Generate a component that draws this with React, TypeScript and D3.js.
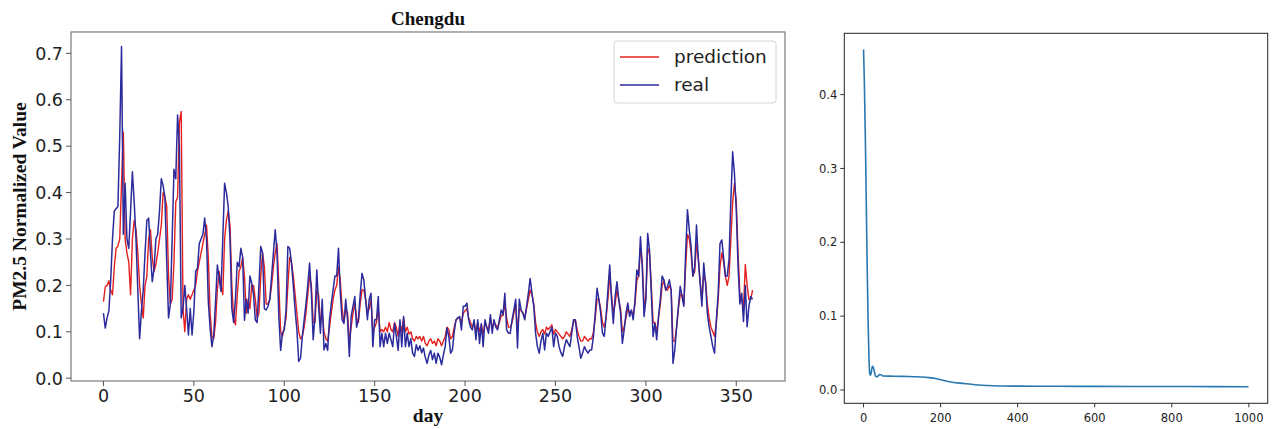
import React from "react";
import * as d3 from "d3";

// ---------- Left chart data (Chengdu) ----------
const realValues: number[] = [
  0.14, 0.108, 0.13, 0.145, 0.21, 0.30, 0.36, 0.365, 0.37, 0.52,
  0.715, 0.31, 0.42, 0.30, 0.28, 0.36, 0.445, 0.38, 0.30, 0.19,
  0.085, 0.145, 0.19, 0.27, 0.34, 0.345, 0.27, 0.208, 0.237, 0.30,
  0.31, 0.36, 0.43, 0.415, 0.39, 0.25, 0.13, 0.16, 0.30, 0.45,
  0.43, 0.567, 0.50, 0.13, 0.15, 0.20, 0.15, 0.093, 0.15, 0.093,
  0.144, 0.23, 0.237, 0.29, 0.30, 0.31, 0.345, 0.30, 0.165, 0.107,
  0.068, 0.093, 0.165, 0.244, 0.215, 0.187, 0.30, 0.42, 0.40, 0.37,
  0.30, 0.15, 0.12, 0.17, 0.25, 0.24, 0.28, 0.26, 0.125, 0.17,
  0.14, 0.22, 0.205, 0.18, 0.126, 0.12, 0.20, 0.284, 0.27, 0.15,
  0.147, 0.155, 0.17, 0.22, 0.27, 0.32, 0.27, 0.133, 0.06, 0.097,
  0.104, 0.147, 0.284, 0.28, 0.248, 0.2, 0.147, 0.104, 0.036, 0.043,
  0.09, 0.126, 0.16, 0.2, 0.248, 0.183, 0.083, 0.133, 0.233, 0.155,
  0.097, 0.17, 0.061, 0.075, 0.06, 0.126, 0.16, 0.19, 0.22, 0.22,
  0.28, 0.183, 0.126, 0.118, 0.17, 0.126, 0.047, 0.133, 0.155, 0.176,
  0.11, 0.126, 0.18, 0.226, 0.212, 0.17, 0.126, 0.17, 0.183, 0.068,
  0.126, 0.126, 0.176, 0.068, 0.097, 0.068, 0.097, 0.075, 0.097, 0.083,
  0.068, 0.118, 0.09, 0.06, 0.126, 0.068, 0.133, 0.068, 0.097, 0.068,
  0.085, 0.054, 0.047, 0.072, 0.06, 0.07, 0.055, 0.065, 0.045, 0.032,
  0.05, 0.06, 0.04, 0.054, 0.032, 0.054, 0.045, 0.029, 0.05, 0.068,
  0.108, 0.09, 0.054, 0.061, 0.1, 0.126, 0.13, 0.133, 0.104, 0.155,
  0.155, 0.162, 0.126, 0.11, 0.104, 0.126, 0.083, 0.126, 0.075, 0.118,
  0.068, 0.126, 0.11, 0.097, 0.137, 0.097, 0.126, 0.11, 0.104, 0.126,
  0.147, 0.137, 0.183, 0.104, 0.097, 0.097, 0.126, 0.147, 0.17, 0.065,
  0.17, 0.147, 0.14, 0.126, 0.155, 0.183, 0.215, 0.183, 0.155, 0.097,
  0.068, 0.054, 0.08, 0.097, 0.061, 0.097, 0.09, 0.1, 0.11, 0.068,
  0.097, 0.09, 0.068, 0.055, 0.047, 0.068, 0.083, 0.075, 0.068, 0.097,
  0.126, 0.126, 0.09, 0.068, 0.043, 0.054, 0.068, 0.06, 0.054, 0.061,
  0.061, 0.09, 0.14, 0.194, 0.17, 0.14, 0.097, 0.09, 0.133, 0.19,
  0.244, 0.17, 0.118, 0.176, 0.208, 0.17, 0.14, 0.075, 0.104, 0.14,
  0.162, 0.133, 0.147, 0.126, 0.17, 0.233, 0.22, 0.305, 0.24, 0.133,
  0.17, 0.312, 0.276, 0.183, 0.09, 0.118, 0.083, 0.133, 0.17, 0.22,
  0.212, 0.19, 0.198, 0.212, 0.19, 0.032, 0.061, 0.11, 0.155, 0.198,
  0.176, 0.155, 0.27, 0.363, 0.32, 0.284, 0.22, 0.24, 0.33, 0.256,
  0.205, 0.155, 0.248, 0.205, 0.14, 0.11, 0.09, 0.068, 0.054, 0.126,
  0.183, 0.29, 0.298, 0.26, 0.22, 0.22, 0.256, 0.384, 0.488, 0.44,
  0.363, 0.24, 0.16, 0.183, 0.122, 0.2, 0.111, 0.155, 0.176, 0.17,
];

const predictionValues: number[] = [
  0.165, 0.197, 0.20, 0.21, 0.19, 0.18, 0.24, 0.28, 0.285, 0.30,
  0.42, 0.53, 0.30, 0.27, 0.25, 0.18, 0.30, 0.34, 0.32, 0.27,
  0.20, 0.16, 0.13, 0.20, 0.22, 0.30, 0.32, 0.26, 0.23, 0.245,
  0.27, 0.30, 0.33, 0.40, 0.39, 0.37, 0.22, 0.16, 0.17, 0.25,
  0.38, 0.39, 0.55, 0.575, 0.15, 0.10, 0.17, 0.18, 0.17, 0.18,
  0.19, 0.20, 0.23, 0.25, 0.27, 0.29, 0.31, 0.33, 0.26, 0.14,
  0.09, 0.085, 0.12, 0.19, 0.23, 0.20, 0.18, 0.30, 0.34, 0.36,
  0.33, 0.20, 0.13, 0.115, 0.18, 0.23, 0.24, 0.26, 0.22, 0.14,
  0.17, 0.15, 0.20, 0.20, 0.17, 0.13, 0.14, 0.22, 0.27, 0.24,
  0.16, 0.16, 0.17, 0.20, 0.24, 0.27, 0.29, 0.20, 0.10, 0.09,
  0.11, 0.13, 0.20, 0.26, 0.25, 0.22, 0.18, 0.14, 0.10, 0.085,
  0.09, 0.11, 0.14, 0.18, 0.22, 0.20, 0.12, 0.12, 0.19, 0.18,
  0.12, 0.14, 0.10, 0.085, 0.08, 0.11, 0.14, 0.17, 0.19, 0.20,
  0.24, 0.21, 0.15, 0.12, 0.15, 0.14, 0.08, 0.11, 0.14, 0.16,
  0.13, 0.12, 0.16, 0.19, 0.19, 0.17, 0.14, 0.15, 0.17, 0.10,
  0.11, 0.12, 0.15, 0.10, 0.105, 0.10, 0.11, 0.10, 0.12, 0.105,
  0.10, 0.12, 0.11, 0.09, 0.12, 0.10, 0.13, 0.10, 0.11, 0.095,
  0.10, 0.085, 0.08, 0.09, 0.085, 0.09, 0.08, 0.09, 0.075, 0.07,
  0.08, 0.085, 0.075, 0.08, 0.07, 0.085, 0.08, 0.07, 0.08, 0.09,
  0.11, 0.105, 0.085, 0.09, 0.11, 0.125, 0.13, 0.13, 0.12, 0.14,
  0.145, 0.15, 0.13, 0.12, 0.11, 0.12, 0.10, 0.12, 0.10, 0.115,
  0.095, 0.12, 0.11, 0.105, 0.13, 0.11, 0.12, 0.115, 0.11, 0.12,
  0.135, 0.135, 0.16, 0.13, 0.11, 0.11, 0.12, 0.14, 0.16, 0.10,
  0.15, 0.145, 0.14, 0.13, 0.15, 0.17, 0.19, 0.18, 0.16, 0.12,
  0.10, 0.09, 0.10, 0.105, 0.095, 0.11, 0.105, 0.11, 0.115, 0.095,
  0.105, 0.10, 0.095, 0.09, 0.085, 0.09, 0.10, 0.095, 0.09, 0.105,
  0.12, 0.125, 0.105, 0.09, 0.08, 0.08, 0.09, 0.085, 0.08, 0.085,
  0.085, 0.10, 0.13, 0.17, 0.17, 0.15, 0.12, 0.11, 0.13, 0.17,
  0.22, 0.18, 0.14, 0.16, 0.19, 0.17, 0.15, 0.10, 0.11, 0.13,
  0.15, 0.14, 0.145, 0.135, 0.16, 0.21, 0.22, 0.28, 0.25, 0.16,
  0.17, 0.28, 0.27, 0.20, 0.12, 0.12, 0.10, 0.13, 0.16, 0.20,
  0.21, 0.19, 0.19, 0.20, 0.19, 0.08, 0.08, 0.11, 0.15, 0.18,
  0.18, 0.16, 0.24, 0.31, 0.30, 0.27, 0.22, 0.23, 0.29, 0.26,
  0.21, 0.17, 0.22, 0.21, 0.16, 0.13, 0.11, 0.10, 0.09, 0.12,
  0.17, 0.24, 0.27, 0.25, 0.22, 0.20, 0.22, 0.30, 0.38, 0.42,
  0.38, 0.27, 0.18, 0.17, 0.15, 0.245, 0.20, 0.17, 0.17, 0.19,
];

const leftXTicks = [0, 50, 100, 150, 200, 250, 300, 350];
const leftYTicks = [0.0, 0.1, 0.2, 0.3, 0.4, 0.5, 0.6, 0.7];

// ---------- Right chart data (loss curve, sampled epochs) ----------
const lossEpochs: number[] = [
  0, 2, 5, 8, 10, 12, 14, 16, 18, 20, 23, 25, 28, 31, 34, 38, 42, 46, 50,
  70, 100, 130, 150, 170, 190, 210, 230, 260, 290, 320, 360, 400, 500, 600,
  700, 800, 900, 999,
];
const lossValues: number[] = [
  0.461, 0.42, 0.33, 0.22, 0.15, 0.09, 0.045, 0.022, 0.02, 0.024, 0.032,
  0.031, 0.025, 0.019, 0.018, 0.019, 0.021, 0.0205, 0.019, 0.0188, 0.0185,
  0.018, 0.0177, 0.0168, 0.0152, 0.0125, 0.0105, 0.0088, 0.0072, 0.006,
  0.0054, 0.0052, 0.005, 0.0049, 0.0048, 0.0047, 0.0046, 0.0045,
];
const rightXTicks = [0, 200, 400, 600, 800, 1000];
const rightYTicks = [0.0, 0.1, 0.2, 0.3, 0.4];

const W = 1276;
const H = 429;

export default function App() {
  // Left chart geometry
  const L = { x0: 71, x1: 785, y0: 32, y1: 381 };
  const lx = d3.scaleLinear().domain([-17.95, 376.95]).range([L.x0, L.x1]);
  const ly = d3.scaleLinear().domain([-0.006, 0.746]).range([L.y1, L.y0]);
  const leftLine = d3
    .line<number>()
    .x((_, i) => lx(i))
    .y((v) => ly(v));

  // Right chart geometry
  const R = { x0: 844.3, x1: 1267.7, y0: 33.3, y1: 403.3 };
  const rx = d3.scaleLinear().domain([-49.95, 1048.95]).range([R.x0, R.x1]);
  const ry = d3.scaleLinear().domain([-0.018, 0.483]).range([R.y1, R.y0]);
  const lossPts = lossEpochs.map((e, i) => [e, lossValues[i]] as [number, number]);
  const rightLine = d3
    .line<[number, number]>()
    .x((d) => rx(d[0]))
    .y((d) => ry(d[1]))
    .curve(d3.curveMonotoneX);

  const sans = "'DejaVu Sans', sans-serif";
  const serif = "'Liberation Serif', 'Times New Roman', serif";
  const fmt = d3.format(".1f");

  return (
    <svg
      width={W}
      height={H}
      viewBox={`0 0 ${W} ${H}`}
      style={{ position: "fixed", left: 0, top: 0, background: "#fff" }}
    >
      <rect x={0} y={0} width={W} height={H} fill="#fff" />

      {/* ===== Left chart ===== */}
      <text
        x={(L.x0 + L.x1) / 2}
        y={25}
        textAnchor="middle"
        fontFamily={serif}
        fontWeight="bold"
        fontSize={19}
        fill="#111"
      >
        Chengdu
      </text>

      <g>
        <path
          d={leftLine(predictionValues) || ""}
          fill="none"
          stroke="#e3201e"
          strokeWidth={1.4}
          strokeLinejoin="round"
        />
        <path
          d={leftLine(realValues) || ""}
          fill="none"
          stroke="#2b2b9e"
          strokeWidth={1.5}
          strokeLinejoin="round"
        />
      </g>

      <rect
        x={L.x0}
        y={L.y0}
        width={L.x1 - L.x0}
        height={L.y1 - L.y0}
        fill="none"
        stroke="#7a7a7a"
        strokeWidth={1.2}
      />

      {leftYTicks.map((t) => (
        <g key={"ly" + t}>
          <line x1={L.x0 - 5} x2={L.x0} y1={ly(t)} y2={ly(t)} stroke="#555" strokeWidth={1} />
          <text
            x={L.x0 - 8}
            y={ly(t)}
            dy="0.36em"
            textAnchor="end"
            fontFamily={sans}
            fontSize={17.5}
            fill="#222"
          >
            {fmt(t)}
          </text>
        </g>
      ))}
      {leftXTicks.map((t) => (
        <g key={"lx" + t}>
          <line x1={lx(t)} x2={lx(t)} y1={L.y1} y2={L.y1 + 5} stroke="#555" strokeWidth={1} />
          <text
            x={lx(t)}
            y={402}
            textAnchor="middle"
            fontFamily={sans}
            fontSize={17.5}
            fill="#222"
          >
            {t}
          </text>
        </g>
      ))}

      <text
        x={(L.x0 + L.x1) / 2}
        y={422}
        textAnchor="middle"
        fontFamily={serif}
        fontWeight="bold"
        fontSize={19.5}
        fill="#111"
      >
        day
      </text>
      <text
        transform={`translate(26, ${(L.y0 + L.y1) / 2}) rotate(-90)`}
        textAnchor="middle"
        fontFamily={serif}
        fontWeight="bold"
        fontSize={19.5}
        fill="#111"
      >
        PM2.5 Normalized Value
      </text>

      {/* Legend */}
      <g>
        <rect
          x={614}
          y={41}
          width={162}
          height={62}
          rx={3}
          fill="#fff"
          fillOpacity={0.85}
          stroke="#d6d6d6"
          strokeWidth={1}
        />
        <line x1={620} x2={659} y1={57} y2={57} stroke="#e3201e" strokeWidth={1.5} />
        <text x={674} y={63} fontFamily={sans} fontSize={18.5} fill="#222">
          prediction
        </text>
        <line x1={620} x2={659} y1={85} y2={85} stroke="#2b2b9e" strokeWidth={1.5} />
        <text x={674} y={91} fontFamily={sans} fontSize={18.5} fill="#222">
          real
        </text>
      </g>

      {/* ===== Right chart ===== */}
      <path
        d={rightLine(lossPts) || ""}
        fill="none"
        stroke="#2a78b0"
        strokeWidth={1.6}
        strokeLinejoin="round"
      />
      <rect
        x={R.x0}
        y={R.y0}
        width={R.x1 - R.x0}
        height={R.y1 - R.y0}
        fill="none"
        stroke="#222"
        strokeWidth={1}
      />
      {rightYTicks.map((t) => (
        <g key={"ry" + t}>
          <line x1={R.x0 - 4} x2={R.x0} y1={ry(t)} y2={ry(t)} stroke="#333" strokeWidth={1} />
          <text
            x={R.x0 - 7}
            y={ry(t)}
            dy="0.36em"
            textAnchor="end"
            fontFamily={sans}
            fontSize={11.5}
            fill="#222"
          >
            {fmt(t)}
          </text>
        </g>
      ))}
      {rightXTicks.map((t) => (
        <g key={"rx" + t}>
          <line x1={rx(t)} x2={rx(t)} y1={R.y1} y2={R.y1 + 4} stroke="#333" strokeWidth={1} />
          <text
            x={rx(t)}
            y={422}
            textAnchor="middle"
            fontFamily={sans}
            fontSize={11.5}
            fill="#222"
          >
            {t}
          </text>
        </g>
      ))}
    </svg>
  );
}
